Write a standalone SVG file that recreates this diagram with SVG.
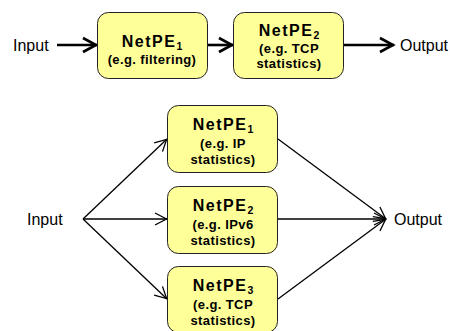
<svg xmlns="http://www.w3.org/2000/svg" width="450" height="331" viewBox="0 0 450 331">
<defs>
<style>
.box{fill:#ffff99;stroke:#222;stroke-width:1}
.t{font-family:"Liberation Sans",Arial,sans-serif;font-weight:bold;fill:#000;text-anchor:middle}
.h{font-size:16px;letter-spacing:1.5px}
.s{font-size:13px;letter-spacing:0.4px}
.sub{font-size:10.5px;letter-spacing:0}
.lbl{font-family:"Liberation Sans",Arial,sans-serif;font-size:16px;fill:#000}
.thick{stroke:#000;stroke-width:2.6;fill:none}
.thin{stroke:#000;stroke-width:1.3;fill:none}
</style>
<marker id="ah" markerUnits="userSpaceOnUse" viewBox="-16 -9 18 18" refX="0" refY="0" markerWidth="18" markerHeight="18" orient="auto">
<path d="M-14,-7 L-1,0 L-14,7" fill="none" stroke="#000" stroke-width="2.6"/>
</marker>
<marker id="at" markerUnits="userSpaceOnUse" viewBox="-14 -8 16 16" refX="0" refY="0" markerWidth="16" markerHeight="16" orient="auto">
<path d="M-12,-6 L-0.5,0 L-12,6" fill="none" stroke="#000" stroke-width="1.3"/>
</marker>
</defs>
<g id="connectors">
<line class="thick" x1="57" y1="45" x2="97" y2="45" marker-end="url(#ah)"/>
<line class="thick" x1="207" y1="45" x2="233" y2="45" marker-end="url(#ah)"/>
<line class="thick" x1="344" y1="45" x2="394" y2="45" marker-end="url(#ah)"/>
<line class="thin" x1="83" y1="219" x2="167" y2="139" marker-end="url(#at)"/>
<line class="thin" x1="83" y1="219" x2="167" y2="219" marker-end="url(#at)"/>
<line class="thin" x1="83" y1="219" x2="167" y2="299" marker-end="url(#at)"/>
<line class="thin" x1="278" y1="139" x2="386" y2="219" marker-end="url(#at)"/>
<line class="thin" x1="278" y1="219" x2="386" y2="219" marker-end="url(#at)"/>
<line class="thin" x1="278" y1="299" x2="386" y2="219" marker-end="url(#at)"/>
</g>
<g id="input-top"><text class="lbl" x="13" y="51">Input</text></g>
<g id="output-top"><text class="lbl" x="400" y="51">Output</text></g>
<g id="input-bottom"><text class="lbl" x="27" y="225">Input</text></g>
<g id="output-bottom"><text class="lbl" x="394" y="225">Output</text></g>
<g id="top-netpe1">
<rect class="box" x="97.5" y="12.5" width="110" height="66" rx="11"/>
<text class="t h" x="152" y="47">NetPE<tspan class="sub" dy="2.5">1</tspan></text>
<text class="t s" x="152" y="64">(e.g. filtering)</text>
</g>
<g id="top-netpe2">
<rect class="box" x="233.5" y="12.5" width="110" height="66" rx="11"/>
<text class="t h" x="289" y="36">NetPE<tspan class="sub" dy="2.5">2</tspan></text>
<text class="t s" x="289" y="53">(e.g. TCP</text>
<text class="t s" x="289" y="68">statistics)</text>
</g>
<g id="bottom-netpe1">
<rect class="box" x="167.5" y="105.5" width="110" height="67" rx="11"/>
<text class="t h" x="223" y="130">NetPE<tspan class="sub" dy="2.5">1</tspan></text>
<text class="t s" x="223" y="148">(e.g. IP</text>
<text class="t s" x="223" y="164">statistics)</text>
</g>
<g id="bottom-netpe2">
<rect class="box" x="167.5" y="186.5" width="110" height="67" rx="11"/>
<text class="t h" x="223" y="211">NetPE<tspan class="sub" dy="2.5">2</tspan></text>
<text class="t s" x="223" y="229">(e.g. IPv6</text>
<text class="t s" x="223" y="245">statistics)</text>
</g>
<g id="bottom-netpe3">
<rect class="box" x="167.5" y="266.5" width="110" height="66" rx="11"/>
<text class="t h" x="223" y="291">NetPE<tspan class="sub" dy="2.5">3</tspan></text>
<text class="t s" x="223" y="309">(e.g. TCP</text>
<text class="t s" x="223" y="325">statistics)</text>
</g>
</svg>
